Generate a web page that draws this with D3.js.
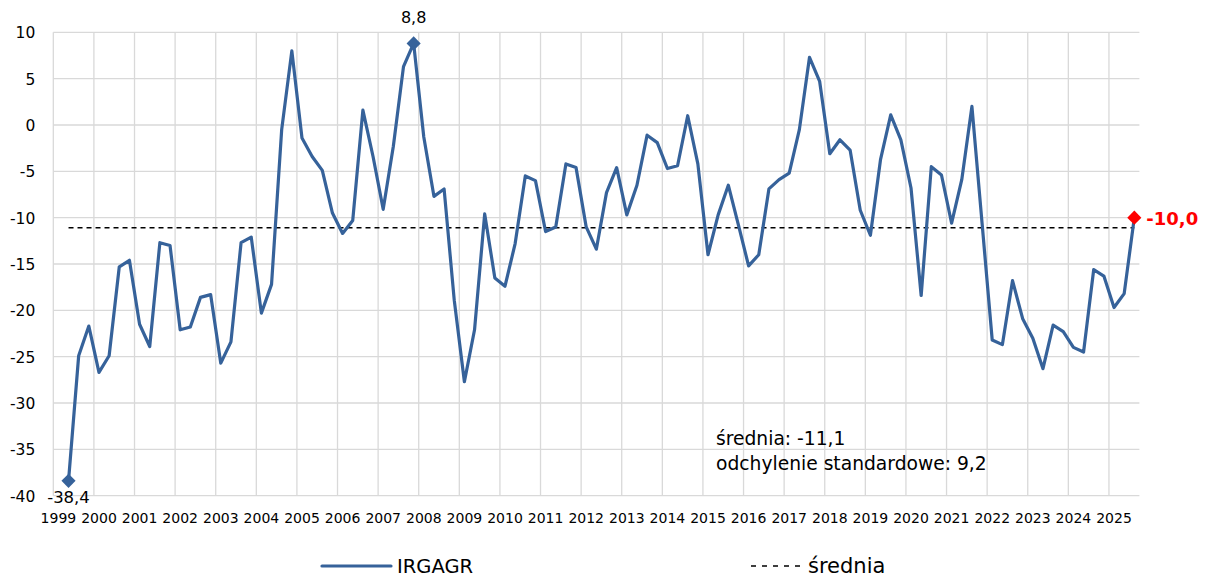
<!DOCTYPE html>
<html>
<head>
<meta charset="utf-8">
<script src="https://cdn.jsdelivr.net/npm/d3@7"></script>
<style>
  body { margin: 0; background: #fff; }
  text { font-family: "DejaVu Sans", Verdana, sans-serif; fill: #000; }
</style>
</head>
<body>
<svg id="wykres" width="1208" height="581"></svg>
<script>
"use strict"
// kwartalnie, od 1999 Q1 do 2025 Q3 (brak danych za 1999 Q1)
var lata = d3.range(1999, 2026);
var irgagr = [null,
  -38.4, -24.9, -21.7,
  -26.7, -24.9, -15.3, -14.6,
  -21.5, -23.9, -12.7, -13.0,
  -22.1, -21.8, -18.6, -18.3,
  -25.7, -23.4, -12.7, -12.1,
  -20.3, -17.2, -0.5, 8.0,
  -1.4, -3.4, -4.9, -9.5,
  -11.7, -10.3, 1.6, -3.4,
  -9.1, -2.3, 6.3, 8.8,
  -1.3, -7.7, -6.9, -18.9,
  -27.7, -22.1, -9.6, -16.5,
  -17.4, -12.8, -5.5, -6.0,
  -11.5, -11.0, -4.2, -4.6,
  -11.0, -13.4, -7.3, -4.6,
  -9.7, -6.5, -1.1, -1.9,
  -4.7, -4.4, 1.0, -4.2,
  -14.0, -9.7, -6.5, -10.8,
  -15.2, -14.0, -6.9, -5.9,
  -5.2, -0.5, 7.3, 4.7,
  -3.1, -1.6, -2.7, -9.2,
  -11.9, -3.7, 1.1, -1.6,
  -6.8, -18.4, -4.5, -5.4,
  -10.6, -5.9, 2.0, -10.6,
  -23.2, -23.7, -16.8, -20.9,
  -23.0, -26.3, -21.6, -22.3,
  -24.0, -24.5, -15.6, -16.3,
  -19.7, -18.2, -10.0];
var srednia = -11.1, odchylenie = 9.2;
var yTicks = d3.range(-40, 11, 5);

var kwartaly = [];
lata.forEach(function(r) {
  for (var q = 1; q <= 4; q++) kwartaly.push(r + " Q" + q);
});
kwartaly = kwartaly.slice(0, irgagr.length);

var dane = irgagr.map(function(v, i) { return {k: kwartaly[i], v: v}; });
var zDanymi = dane.filter(function(d) { return d.v != null; });

var svg = d3.select("svg#wykres");
var pLeft = 53.3, pRight = 1139.4, pTop = 32.3, pBottom = 495.7;

var x = d3.scaleBand().domain(kwartaly).range([pLeft, pRight]).padding(0);
var y = d3.scaleLinear().domain([-40, 10]).range([pBottom, pTop]);
var xc = function(k) { return x(k) + x.bandwidth() / 2; };

var siatka = svg.append("g").attr("class", "siatka")
  .attr("stroke", "#d9d9d9").attr("stroke-width", 1.3);

siatka.selectAll("line.h").data(yTicks).enter().append("line")
  .attr("x1", pLeft).attr("x2", pRight)
  .attr("y1", function(d) { return y(d); }).attr("y2", function(d) { return y(d); });

var poczatkiLat = kwartaly.filter(function(k) { return /Q1$/.test(k); });
siatka.selectAll("line.v").data(poczatkiLat).enter().append("line")
  .attr("x1", function(d) { return x(d); }).attr("x2", function(d) { return x(d); })
  .attr("y1", pTop).attr("y2", pBottom);

// os Y
var osY = svg.append("g")
  .attr("transform", "translate(" + (pLeft - 18) + ",0)")
  .call(d3.axisLeft(y).tickValues(yTicks).tickSize(0).tickPadding(0)
    .tickFormat(function(d) { return String(d); }));
osY.select(".domain").remove();
osY.selectAll("text").style("font-size", "15.5px")
  .style("font-family", "DejaVu Sans").attr("dy", "0.36em");

// os X
var osX = svg.append("g")
  .attr("transform", "translate(0," + pBottom + ")")
  .call(d3.axisBottom(x).tickValues(poczatkiLat)
    .tickFormat(function(d) { return d.slice(0, 4); })
    .tickSize(0).tickPadding(17));
osX.select(".domain").remove();
osX.selectAll("text").style("font-size", "14px").style("font-family", "DejaVu Sans");

// srednia
svg.append("line")
  .attr("x1", xc(zDanymi[0].k)).attr("x2", xc(zDanymi[zDanymi.length - 1].k))
  .attr("y1", y(srednia)).attr("y2", y(srednia))
  .attr("stroke", "#000").attr("stroke-width", 1.5)
  .attr("stroke-dasharray", "5,4");

var linia = d3.line()
  .defined(function(d) { return d.v != null; })
  .x(function(d) { return xc(d.k); })
  .y(function(d) { return y(d.v); });

svg.append("path").datum(dane)
  .attr("d", linia)
  .attr("fill", "none")
  .attr("stroke", "#36629a")
  .attr("stroke-width", 3.2)
  .attr("stroke-linejoin", "round");

// znaczniki: minimum, maksimum, ostatnia
var minP = d3.least(zDanymi, function(d) { return d.v; });
var maxP = d3.greatest(zDanymi, function(d) { return d.v; });
var ost = zDanymi[zDanymi.length - 1];
var romb = d3.symbol(d3.symbolSquare, 100);
var fmt = function(v) { return d3.format(".1f")(v).replace(".", ",").replace("−", "-"); };

[[minP, "#36629a"], [maxP, "#36629a"], [ost, "#ff0000"]].forEach(function(p) {
  svg.append("path").attr("d", romb)
    .attr("transform", "translate(" + xc(p[0].k) + "," + y(p[0].v) + ") rotate(45)")
    .attr("fill", p[1]);
});

svg.append("text").attr("x", xc(minP.k)).attr("y", y(minP.v) + 22)
  .attr("text-anchor", "middle").style("font-size", "16.5px").text(fmt(minP.v));
svg.append("text").attr("x", xc(maxP.k)).attr("y", y(maxP.v) - 20)
  .attr("text-anchor", "middle").style("font-size", "16px").text(fmt(maxP.v));
svg.append("text").attr("x", xc(ost.k) + 12).attr("y", y(ost.v) + 7)
  .style("font-size", "18px").style("font-weight", "bold").style("fill", "#ff0000")
  .text(fmt(ost.v));

// opis
svg.append("text").attr("x", 716).attr("y", 445).style("font-size", "18.7px")
  .text("średnia: " + fmt(srednia));
svg.append("text").attr("x", 716).attr("y", 470).style("font-size", "18.7px")
  .text("odchylenie standardowe: " + fmt(odchylenie));

// legenda
var leg = svg.append("g");
leg.append("line").attr("x1", 322).attr("x2", 391).attr("y1", 566).attr("y2", 566)
  .attr("stroke", "#36629a").attr("stroke-width", 3.2).attr("stroke-linecap", "round");
leg.append("text").attr("x", 397).attr("y", 573).style("font-size", "19.5px").text("IRGAGR");
leg.append("line").attr("x1", 751).attr("x2", 803).attr("y1", 566).attr("y2", 566)
  .attr("stroke", "#000").attr("stroke-width", 1.5).attr("stroke-dasharray", "5,6");
leg.append("text").attr("x", 808).attr("y", 573).style("font-size", "21px").text("średnia");
</script>
</body>
</html>
